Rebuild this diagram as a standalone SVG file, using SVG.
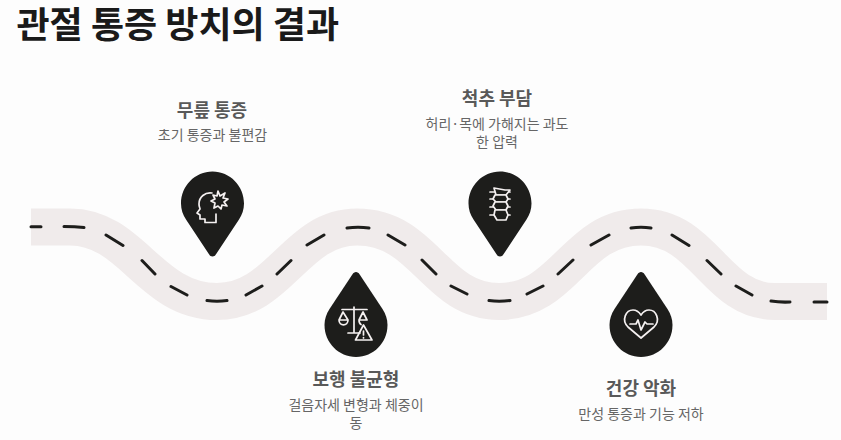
<svg xmlns="http://www.w3.org/2000/svg" width="841" height="440" viewBox="0 0 841 440">
<style>
text{font-family:"Noto Sans CJK KR","Noto Sans",sans-serif;text-anchor:middle}
.t{font-size:36px;font-weight:700;fill:#1a1a1a;text-anchor:start}
.h{font-size:18px;font-weight:700;fill:#595959}
.d{font-size:14px;fill:#666}
.pin{fill:#1d1d1b}
.ic{fill:none;stroke:#f5f1f1;stroke-width:1.7;stroke-linejoin:round;stroke-linecap:round}
</style>
<rect width="841" height="440" fill="#fdfdfd"/>
<text class="t" x="16.500" y="38">관절 통증 방치의 결과</text>
<g id="connectors" fill="none">
<path id="road" d="M31 227H70C132 227 150 301.500 217 301.500C280 301.500 295 227 357 227C425 227 435 301.500 499 301.500C565 301.500 575 227 641 227C705 227 715 301.500 775 301.500H827" stroke="#f0ebeb" stroke-width="37"/>
<path id="dashes" stroke="#1d1d1b" stroke-width="3" stroke-linecap="round" d="M31 226.700H41M64 226.500Q75 226.500 84 227.500M106 235L123 245.500M142 260.500L155 274M171 286.500L187 295M207 300.500Q217 302 227 300.500M246 295L262 286M277 274L291 260.500M307 245L324 235M347 228Q358 226.500 369 228M388 235L405 245M422 260L436 274M451 286L467 294M489 300.500Q499 302 510 300.500M527 294L543 286M558 274L573 260M591 245L609 235M631 228Q641 226.500 651 228M672 235L689 245.500M707 260.500L721 274M736 286L752 295M771 301Q780 302.500 790 302M814 302H827"/>
</g>
<g id="node1">
<path class="pin" d="M212.500 256.500C211 256.500 209.800 255.500 209 254.200L186 219.500C182.800 214.500 181 209.500 181 203.500C181 186 195 171.500 212.500 171.500C230 171.500 244 186 244 203.500C244 209.500 242.200 214.500 239 219.500L216 254.200C215.200 255.500 214 256.500 212.500 256.500Z"/>
<path class="ic" d="M212 193C205 192 199 197 199 204C199 207 200 208 200 209L197 213L200 215V219H205V222.500H216V214"/>
<path class="ic" d="M218 191L220 196L225 193L223 198L228 199L224 202L227 206L222 205L221 209L218 206L214 208L215 203L211 201L215 199L213 195L217 196Z"/>
<text class="h" x="212" y="117">무릎 통증</text>
<text class="d" x="212.500" y="140">초기 통증과 불편감</text>
</g>
<g id="node2">
<path class="pin" d="M356 272C357.500 272 358.700 273 359.500 274.200L382.500 309C385.700 314 387.500 319 387.500 325C387.500 342.500 373.500 357 356 357C338.500 357 324.500 342.500 324.500 325C324.500 319 326.300 314 329.500 309L352.500 274.200C353.300 273 354.500 272 356 272Z"/>
<path class="ic" d="M342 309.500H367M354 307V333M348 333H360M343 312L339 320H348ZM363 312L359 320H367ZM339 320C339 326.500 348 326.500 348 320M359 320C359 323 360 324 361 324.500"/>
<path class="ic" d="M363.500 325L372 340H355.500ZM363.500 331V335M363.500 337.500V338"/>
<text class="h" x="356" y="386">보행 불균형</text>
<text class="d" x="356" y="410">걸음자세 변형과 체중이</text>
<text class="d" x="356" y="428">동</text>
</g>
<g id="node3">
<path class="pin" d="M500 256.500C498.500 256.500 497.300 255.500 496.500 254.200L473.500 219.500C470.300 214.500 468.500 209.500 468.500 203.500C468.500 186 482.500 171.500 500 171.500C517.500 171.500 531.500 186 531.500 203.500C531.500 209.500 529.700 214.500 526.500 219.500L503.500 254.200C502.700 255.500 501.500 256.500 500 256.500Z"/>
<path class="ic" d="M490 192H510M490 199H510M490 207H510M490 215H510"/>
<g fill="#1d1d1b" stroke="#f5f1f1" stroke-width="1.700" stroke-linejoin="round">
<path d="M494 188L505 190L510 190L506 195H496Z"/>
<path d="M495 195H506L508 199L506 202H496L493 199Z"/>
<path d="M495 202H506L508 206L506 210H496L493 206Z"/>
<path d="M495 210H506L508 215L506 220H497L494 215Z"/>
</g>
<text class="h" x="497" y="105">척추 부담</text>
<text class="d" x="497" y="129">허리·목에 가해지는 과도</text>
<text class="d" x="497" y="147">한 압력</text>
</g>
<g id="node4">
<path class="pin" d="M641 272C642.500 272 643.700 273 644.500 274.200L667.500 309C670.700 314 672.500 319 672.500 325C672.500 342.500 658.500 357 641 357C623.500 357 609.500 342.500 609.500 325C609.500 319 611.300 314 614.500 309L637.500 274.200C638.300 273 639.500 272 641 272Z"/>
<path class="ic" d="M641 338L628 327C621 320 626 310 633 310C637 310 639 312 641 315C643 312 645 310 649 310C656 310 661 320 654 327Z"/>
<path class="ic" d="M630 324H636L638 320L641 330L645 322L647 324H653"/>
<text class="h" x="641" y="395">건강 악화</text>
<text class="d" x="641" y="419">만성 통증과 기능 저하</text>
</g>
</svg>
